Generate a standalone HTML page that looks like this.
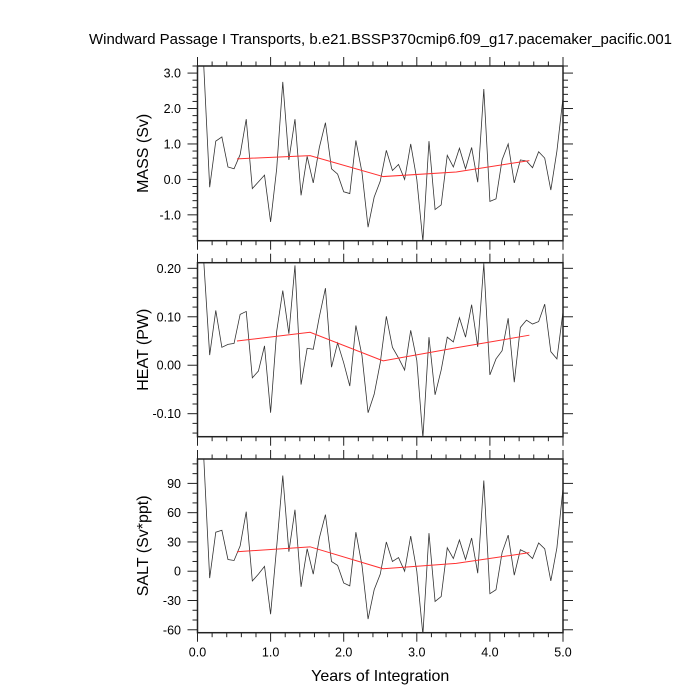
<!DOCTYPE html>
<html><head><meta charset="utf-8">
<style>
html,body{margin:0;padding:0;background:#fff;}
svg{display:block;font-family:"Liberation Sans",Arial,sans-serif;}
</style></head>
<body>
<svg id="chart" width="700" height="700" viewBox="0 0 700 700" xmlns="http://www.w3.org/2000/svg">
<text x="89" y="44" font-size="15" textLength="583" lengthAdjust="spacingAndGlyphs" fill="#000">Windward Passage I Transports, b.e21.BSSP370cmip6.f09_g17.pacemaker_pacific.001</text>
<g id="plots"></g>
</svg>
<script>
const massValues = [3.3,-0.22,1.08,1.2,0.35,0.3,0.7,1.7,-0.26,-0.07,0.12,-1.2,0.3,2.75,0.55,1.7,-0.45,0.65,-0.1,0.9,1.6,0.3,0.15,-0.35,-0.4,1.1,0.2,-1.35,-0.5,-0.05,0.82,0.25,0.42,0.0,1.0,0.0,-1.75,1.08,-0.85,-0.72,0.68,0.35,0.88,0.3,0.9,-0.08,2.55,-0.62,-0.55,0.55,1.0,-0.1,0.55,0.52,0.33,0.78,0.6,-0.3,0.8,2.3];
const heatValues = [0.22,0.021,0.113,0.037,0.043,0.045,0.105,0.111,-0.026,-0.012,0.04,-0.098,0.07,0.154,0.065,0.206,-0.04,0.035,0.033,0.1,0.159,-0.004,0.046,0.005,-0.043,0.082,0.02,-0.098,-0.06,0.005,0.101,0.037,0.015,-0.01,0.072,0.01,-0.15,0.058,-0.061,-0.01,0.058,0.048,0.098,0.058,0.125,0.038,0.21,-0.02,0.013,0.03,0.097,-0.035,0.078,0.093,0.085,0.09,0.126,0.028,0.013,0.11];
const saltValues = [120,-7,40,42,12,11,26,61,-10,-3,5,-44,25,98,20,63,-16,23,-3,34,58,10,6,-12,-15,40,6,-49,-19,-3,30,10,14,0,36,0,-65,39,-31,-26,24,13,32,12,34,-2,93,-23,-19,19,37,-4,22,19,13,29,23,-10,24,85];
const massAnnual = [0.58,0.67,0.08,0.21,0.53];
const heatAnnual = [0.05,0.068,0.009,0.036,0.062];
const saltAnnual = [20,25,2.5,8,19];
const annualX = [0.54,1.54,2.54,3.54,4.54];
const xTickLabels = ["0.0","1.0","2.0","3.0","4.0","5.0"];
const massTicks = ["-1.0","0.0","1.0","2.0","3.0"];
const heatTicks = ["-0.10","0.00","0.10","0.20"];
const saltTicks = ["-60","-30","0","30","60","90"];

const NS="http://www.w3.org/2000/svg";
const X0=197.5,X1=563;
const xs=v=>X0+(v/5)*(X1-X0);
const g=document.getElementById('plots');
function mk(tag,attrs,parent){const e=document.createElementNS(NS,tag);for(const k in attrs)e.setAttribute(k,attrs[k]);(parent||g).appendChild(e);return e;}

const panels=[
 {name:'mass',title:'MASS (Sv)',tl:75,top:66,bot:240.7,vmin:-1.73,vmax:3.2,vals:massValues,ann:massAnnual,ticks:massTicks,minor:0.2,last:false},
 {name:'heat',title:'HEAT (PW)',tl:83,top:262.7,bot:436.7,vmin:-0.1475,vmax:0.2116,vals:heatValues,ann:heatAnnual,ticks:heatTicks,minor:0.02,last:false},
 {name:'salt',title:'SALT (Sv*ppt)',tl:104,top:459,bot:632.7,vmin:-63,vmax:115,vals:saltValues,ann:saltAnnual,ticks:saltTicks,minor:10,last:true}
];
panels.forEach(p=>{
 const ys=v=>p.bot-(v-p.vmin)/(p.vmax-p.vmin)*(p.bot-p.top);
 const pg=mk('g',{});
 
 
 const cid='clip-'+p.name;
 const cp=mk('clipPath',{id:cid},pg);mk('rect',{x:X0,y:p.top,width:X1-X0,height:p.bot-p.top},cp);
 const pts=p.vals.map((v,i)=>xs((i+1)/12).toFixed(2)+','+ys(v).toFixed(2)).join(' ');
 const line=mk('polyline',{points:pts,fill:'none',stroke:'#333','stroke-width':0.8,'clip-path':'url(#'+cid+')'},pg);
 
 
 const apts=p.ann.map((v,i)=>xs(annualX[i]).toFixed(2)+','+ys(v).toFixed(2)).join(' ');
 const al=mk('polyline',{points:apts,fill:'none',stroke:'#ff3030','stroke-width':1,'clip-path':'url(#'+cid+')'},pg);
 
 
 const fr=mk('rect',{x:X0,y:p.top,width:X1-X0,height:p.bot-p.top,fill:'none',stroke:'#222','stroke-width':1.5},pg);
 
 
 for(let k=0;k<=25;k++){const t=k*0.2;const x=xs(t);const L=(k%5===0)?9:4.5;
  mk('line',{x1:x,x2:x,y1:p.top,y2:p.top-L,stroke:'#222','stroke-width':1},pg);
  mk('line',{x1:x,x2:x,y1:p.bot,y2:p.bot+L,stroke:'#222','stroke-width':1},pg);}
 if(p.last){xTickLabels.forEach(l=>{const t=mk('text',{x:xs(parseFloat(l)),y:p.bot+24,'font-size':12.5,'text-anchor':'middle'},pg);t.textContent=l;
  
  });
  const xt=mk('text',{x:(X0+X1)/2,y:681,'font-size':16,'text-anchor':'middle'},pg);xt.textContent='Years of Integration';
  
  }
 const start=Math.ceil(p.vmin/p.minor-1e-9);
 for(let k=start;k*p.minor<=p.vmax+1e-9;k++){const v=k*p.minor;const y=ys(v);
  const isMaj=p.ticks.some(t=>Math.abs(parseFloat(t)-v)<p.minor/10);const L=isMaj?10:5;
  mk('line',{x1:X0,x2:X0-L,y1:y,y2:y,stroke:'#222','stroke-width':1},pg);
  mk('line',{x1:X1,x2:X1+L,y1:y,y2:y,stroke:'#222','stroke-width':1},pg);}
 p.ticks.forEach(l=>{const t=mk('text',{x:181,y:ys(parseFloat(l))+4.5,'font-size':12.5,'text-anchor':'end'},pg);t.textContent=l;
  
  });
 const cy=(p.top+p.bot)/2;
 const yt=mk('text',{x:148,y:cy,'font-size':16,'text-anchor':'middle',transform:'rotate(-90 148 '+cy+')'},pg);yt.textContent=p.title;
 
 
});
</script>
</body></html>
